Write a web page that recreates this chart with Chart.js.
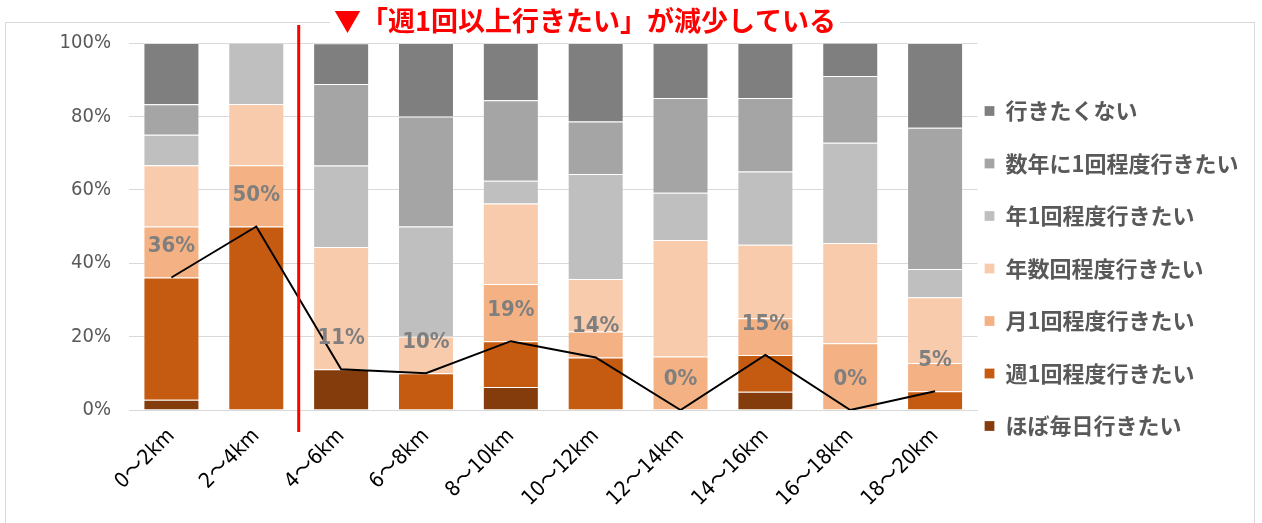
<!DOCTYPE html>
<html>
<head>
<meta charset="utf-8">
<script src="https://cdn.jsdelivr.net/npm/chart.js@4"></script>
<style>
  body { margin: 0; background: #fff; }
  #wrap { width: 1262px; height: 523px; }
</style>
</head>
<body>
<div id="wrap"><canvas id="distanceChart" width="1262" height="523"></canvas></div>
<script>
// 距離帯
const categories = ['0～2km', '2～4km', '4～6km', '6～8km', '8～10km', '10～12km', '12～14km', '14～16km', '16～18km', '18～20km'];

// 積み上げ（下から順）
const daily       = [2.8, 0, 11.1, 0, 6.25, 0, 0, 5, 0, 0];
const weekly      = [33.3, 50, 0, 10, 12.5, 14.3, 0, 10, 0, 5.1];
const monthly     = [13.9, 16.7, 0, 0, 15.6, 7.1, 14.6, 10, 18.2, 7.7];
const fewPerYear  = [16.7, 16.7, 33.3, 10, 21.9, 14.3, 31.7, 20, 27.3, 17.9];
const oncePerYear = [8.3, 16.7, 22.2, 30, 6.25, 28.6, 12.9, 20, 27.3, 7.7];
const fewYears    = [8.3, 0, 22.2, 30, 21.9, 14.3, 25.8, 20, 18.2, 38.5];
const never       = [16.7, 0, 11.1, 20, 15.6, 21.4, 15.0, 15, 9.1, 23.1];

// 週1回以上（折れ線）
const weeklyOrMore = [36.1, 50, 11.1, 10, 18.75, 14.3, 0, 15, 0, 5.1];

const yTicks = [0, 20, 40, 60, 80, 100];
const titleText = '▼「週1回以上行きたい」が減少している';

const narrowFont = "'DejaVu Sans Condensed', 'Noto Sans CJK JP', sans-serif";
const jpFont = "'Noto Sans CJK JP', sans-serif";

function barSet(label, data, color) {
    return {
        type: 'bar',
        label: label,
        data: data,
        backgroundColor: color,
        borderColor: 'rgba(255, 255, 255, 0.25)',
        borderWidth: 1,
        order: 1,
        barPercentage: 0.66,
        categoryPercentage: 1
    };
}

// 枠線・タイトル・区切り線・データラベル
const decorPlugin = {
    id: 'decor',
    afterLayout(chart) {
        const lg = chart.legend;
        lg.left -= 23.5; lg.right -= 23.5;
        lg.top -= 14.5; lg.bottom -= 14.5;
    },
    beforeDraw(chart) {
        const ctx = chart.ctx;
        ctx.save();
        ctx.strokeStyle = '#d9d9d9';
        ctx.lineWidth = 1;
        ctx.strokeRect(5.5, 22.5, 1249, 520);
        ctx.restore();
    },
    afterDatasetsDraw(chart) {
        const ctx = chart.ctx;
        const idx = chart.data.datasets.length - 1;
        const meta = chart.getDatasetMeta(idx);
        ctx.save();
        ctx.font = 'bold 22px ' + narrowFont;
        ctx.fillStyle = '#7f7f7f';
        ctx.textAlign = 'center';
        ctx.textBaseline = 'middle';
        meta.data.forEach((pt, i) => {
            ctx.fillText(Math.round(weeklyOrMore[i]) + '%', pt.x, pt.y - 31);
        });
        ctx.restore();
    },
    afterDraw(chart) {
        const ctx = chart.ctx;
        const xs = chart.scales.x;
        const sepX = (xs.getPixelForValue(1) + xs.getPixelForValue(2)) / 2;
        ctx.save();
        ctx.strokeStyle = '#ff0000';
        ctx.lineWidth = 3;
        ctx.beginPath();
        ctx.moveTo(sepX, 25);
        ctx.lineTo(sepX, 432);
        ctx.stroke();

        ctx.font = 'bold 27px ' + jpFont;
        const w = ctx.measureText(titleText).width;
        ctx.fillStyle = '#ffffff';
        ctx.fillRect(330, 5, w + 8, 32);
        ctx.fillStyle = '#ff0000';
        ctx.textBaseline = 'middle';
        ctx.fillText(titleText, 334, 21);
        ctx.restore();
    }
};

const ctx = document.getElementById('distanceChart').getContext('2d');
const distanceChart = new Chart(ctx, {
    data: {
        labels: categories,
        datasets: [
            barSet('ほぼ毎日行きたい', daily, '#843c0c'),
            barSet('週1回程度行きたい', weekly, '#c55a11'),
            barSet('月1回程度行きたい', monthly, '#f4b183'),
            barSet('年数回程度行きたい', fewPerYear, '#f8cbad'),
            barSet('年1回程度行きたい', oncePerYear, '#bfbfbf'),
            barSet('数年に1回程度行きたい', fewYears, '#a5a5a5'),
            barSet('行きたくない', never, '#7f7f7f'),
            {
                type: 'line',
                label: '週1回以上',
                data: weeklyOrMore,
                borderColor: '#000000',
                borderWidth: 2,
                pointRadius: 0,
                tension: 0,
                fill: false,
                stack: 'line',
                order: 0
            }
        ]
    },
    options: {
        responsive: false,
        animation: false,
        layout: {
            padding: { top: 43, left: 0, right: -10, bottom: 0 }
        },
        plugins: {
            legend: {
                position: 'right',
                reverse: true,
                labels: {
                    filter: (item) => item.text !== '週1回以上',
                    boxWidth: 10,
                    boxHeight: 10,
                    padding: 30.5,
                    color: '#595959',
                    font: { family: jpFont, size: 22, weight: 'bold' }
                }
            },
            tooltip: { enabled: false }
        },
        scales: {
            x: {
                stacked: true,
                grid: { display: false, drawTicks: false },
                border: { color: '#d9d9d9', width: 1 },
                ticks: {
                    autoSkip: false,
                    maxRotation: 45,
                    minRotation: 45,
                    padding: 14,
                    color: '#000000',
                    font: { family: narrowFont, size: 21 }
                },
                afterFit: (axis) => { axis.height = 113; }
            },
            y: {
                stacked: true,
                min: 0,
                max: 100,
                grid: { color: '#d9d9d9', drawTicks: false },
                border: { display: false },
                afterBuildTicks: (axis) => { axis.ticks = yTicks.map(v => ({ value: v })); },
                ticks: {
                    padding: 18,
                    color: '#595959',
                    font: { family: narrowFont, size: 20 },
                    callback: (v) => v + '%'
                },
                afterFit: (axis) => { axis.width = 129; }
            }
        }
    },
    plugins: [decorPlugin]
});
</script>
</body>
</html>
